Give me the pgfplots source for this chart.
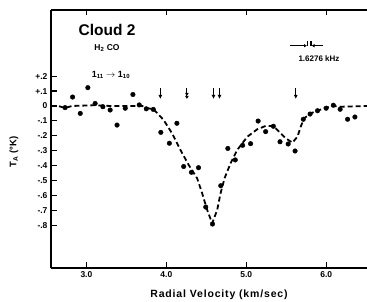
\documentclass[border=0pt]{standalone}
\usepackage{fontspec}
\setmainfont{Liberation Sans}
\usepackage{pgfplots}
\pgfplotsset{compat=1.18}
\usetikzlibrary{arrows.meta}
\pgfplotstableread{
v T
2.733 -0.011
2.827 0.060
2.923 -0.050
3.018 0.123
3.109 0.017
3.206 -0.005
3.297 -0.027
3.383 -0.128
3.486 -0.015
3.582 0.077
3.661 0.007
3.749 -0.019
3.837 -0.023
3.931 -0.177
4.038 -0.250
4.132 -0.116
4.217 -0.406
4.314 -0.445
4.402 -0.414
4.493 -0.678
4.577 -0.792
4.681 -0.535
4.769 -0.285
4.862 -0.362
4.954 -0.264
5.054 -0.253
5.148 -0.101
5.242 -0.172
5.339 -0.136
5.422 -0.240
5.524 -0.255
5.610 -0.302
5.713 -0.089
5.798 -0.054
5.891 -0.032
5.999 -0.015
6.089 0.005
6.174 -0.022
6.267 -0.089
6.359 -0.074
}\pts
\pgfplotstableread{
v T
2.557 0
2.645 0
2.733 -0.013
2.821 0
3.109 0.005
3.300 0
3.500 0
3.700 0
3.749 -0.013
3.840 -0.022
3.966 -0.094
4.071 -0.183
4.176 -0.295
4.280 -0.396
4.385 -0.485
4.448 -0.586
4.511 -0.698
4.573 -0.787
4.636 -0.698
4.678 -0.586
4.728 -0.485
4.803 -0.385
4.887 -0.295
5.013 -0.206
5.138 -0.156
5.242 -0.134
5.339 -0.134
5.409 -0.172
5.493 -0.217
5.577 -0.246
5.640 -0.206
5.681 -0.139
5.723 -0.083
5.807 -0.049
5.891 -0.032
5.995 -0.011
6.079 0
6.183 -0.005
6.510 0
}\fit
\begin{document}
\begin{tikzpicture}[x=1pt,y=1pt]
\useasboundingbox (0,0) rectangle (367,302);
\begin{axis}[at={(51pt,34pt)}, anchor=south west, scale only axis,
  width=316pt, height=258pt,
  xmin=2.557, xmax=6.51, ymin=-1.087, ymax=0.644,
  axis lines*=left, axis line style={line width=1.4pt, -},
  xtick={3,4,5,6}, xticklabels={3.0,4.0,5.0,6.0},
  ytick={0.2,0.1,0,-0.1,-0.2,-0.3,-0.4,-0.5,-0.6,-0.7,-0.8},
  yticklabels={+.2,+.1,0,-.1,-.2,-.3,-.4,-.5,-.6,-.7,-.8},
  tick style={line width=1.2pt, black}, major tick length=6pt,
  tick align=inside,
  ticklabel style={font=\bfseries\fontsize{8.5}{10}\selectfont},
  /pgf/number format/assume math mode=true,
  clip=false,
]
\draw[line width=1.4pt] (rel axis cs:0,1) -- (rel axis cs:1,1);
\draw[line width=1.2pt] (axis cs:3,0.644) -- (axis cs:3,0.610);
\draw[line width=1.2pt] (axis cs:4,0.644) -- (axis cs:4,0.610);
\draw[line width=1.2pt] (axis cs:5,0.644) -- (axis cs:5,0.610);
\draw[line width=1.2pt] (axis cs:6,0.644) -- (axis cs:6,0.610);
\addplot[black, line width=1.8pt, dash pattern=on 5pt off 3pt] table[x=v,y=T] {\fit};
\addplot[only marks, mark=*, mark size=2.3pt, black] table[x=v,y=T] {\pts};
\draw[line width=1.2pt, -{Latex[length=4pt,width=4pt]}] (axis cs:3.925,0.121) -- (axis cs:3.925,0.047);
\draw[line width=1.2pt, -{Latex[length=3pt,width=4pt]Latex[length=3pt,width=4pt]}] (axis cs:4.257,0.121) -- (axis cs:4.257,0.047);
\draw[line width=1.2pt, -{Latex[length=4pt,width=4pt]}] (axis cs:4.590,0.121) -- (axis cs:4.590,0.047);
\draw[line width=1.2pt, -{Latex[length=4pt,width=4pt]}] (axis cs:4.665,0.121) -- (axis cs:4.665,0.047);
\draw[line width=1.2pt, -{Latex[length=4pt,width=4pt]}] (axis cs:5.619,0.121) -- (axis cs:5.619,0.047);
\end{axis}
% annotations in picture coordinates
\node[font=\bfseries\fontsize{15.5}{18}\selectfont] at (107,272) {Cloud 2};
\node[font=\bfseries\fontsize{8.5}{10}\selectfont] at (107,254) {H\textsubscript{2} CO};
\node[font=\bfseries\fontsize{9}{10}\selectfont] at (111,227) {1\textsubscript{11} $\rightarrow$ 1\textsubscript{10}};
\draw[line width=1.2pt, -{Latex[length=3pt,width=3.5pt]}] (290,256.3) -- (307,256.3);
\draw[line width=1.2pt] (307.5,256.3) -- (307.5,261);
\draw[line width=1.2pt] (311,256.3) -- (311,261);
\draw[line width=1.2pt, -{Latex[length=3pt,width=3.5pt]}] (323,256.3) -- (311.5,256.3);
\node[font=\bfseries\fontsize{8}{9}\selectfont] at (319,243.7) {1.6276 kHz};
\node[font=\bfseries\fontsize{10.5}{12}\selectfont\addfontfeatures{LetterSpace=8}] at (219,7) {Radial Velocity (km/sec)};
\node[rotate=90, font=\bfseries\fontsize{9.5}{11}\selectfont] at (14,150) {T\textsubscript{A} (°K)};
\end{tikzpicture}
\end{document}
